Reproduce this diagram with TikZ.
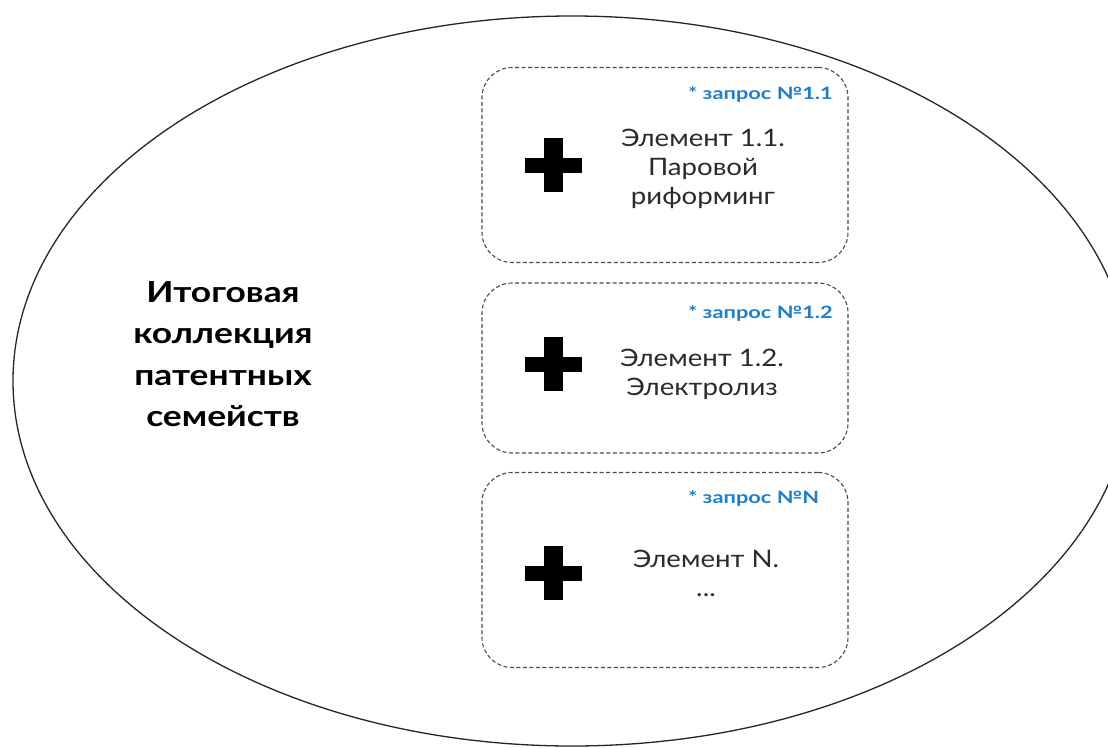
\documentclass[tikz,border=0pt]{standalone}
\usepackage{fontspec}
\setmainfont{Lato}
\newfontfamily\widelato[FakeStretch=1.15]{Lato}
\newfontfamily\widerlato[FakeStretch=1.22]{Lato}
\newfontfamily\widestlato[FakeStretch=1.28]{Lato}
\usetikzlibrary{shapes.geometric}
\definecolor{qblue}{HTML}{1C7ED0}
\definecolor{txt}{HTML}{2B2B2B}
\begin{document}
\begin{tikzpicture}[x=1pt,y=-1pt,
  elembox/.style={draw=txt!85, dashed, dash pattern=on 4pt off 2.5pt, line width=1.1pt, rounded corners=30pt, minimum width=366pt, minimum height=#1, inner sep=0pt},
  qlabel/.style={anchor=west, text=qblue, font=\widestlato\fontsize{17}{20}\selectfont\bfseries, inner sep=0pt},
  elemtext/.style={align=center, text=txt, font=\widelato\fontsize{24}{29}\selectfont, inner sep=0pt},
  plusv/.style={fill=black},
]
\useasboundingbox (0,0) rectangle (1108,747);
\clip (0,0) rectangle (1108,747);
\fill[white] (0,0) rectangle (1108,747);
% outer ellipse
\node[draw=black!85, line width=1.3pt, ellipse, minimum width=1118pt, minimum height=730pt, inner sep=0pt] (coll) at (572,381) {};
% left title
\node[align=center, font=\widerlato\fontsize{29}{41.5}\selectfont\bfseries, inner sep=0pt] (title) at (223,354) {Итоговая\\коллекция\\патентных\\семейств};
% boxes
\node[elembox=195pt] (b1) at (665,165) {};
\node[elembox=170pt] (b2) at (665,368) {};
\node[elembox=195pt] (b3) at (665,570) {};
% query labels
\node[qlabel] (q1) at (688,94) {* запрос №1.1};
\node[qlabel] (q2) at (688,313) {* запрос №1.2};
\node[qlabel] (q3) at (688,498) {* запрос №N};
% element texts
\node[elemtext] (e1) at (703,169) {Элемент 1.1.\\Паровой\\риформинг};
\node[elemtext] (e2) at (702,374) {Элемент 1.2.\\Электролиз};
\node[elemtext] (e3) at (706,573) {Элемент N.\\...};
% plus signs
\foreach \n/\y in {p1/165, p2/364, p3/573}{
  \coordinate (\n) at (553,\y);
  \fill[plusv] ([xshift=-9.5pt,yshift=-27pt]\n) rectangle ([xshift=9.5pt,yshift=27pt]\n);
  \fill[plusv] ([xshift=-28.5pt,yshift=-7.5pt]\n) rectangle ([xshift=28.5pt,yshift=7.5pt]\n);
}
\end{tikzpicture}
\end{document}
